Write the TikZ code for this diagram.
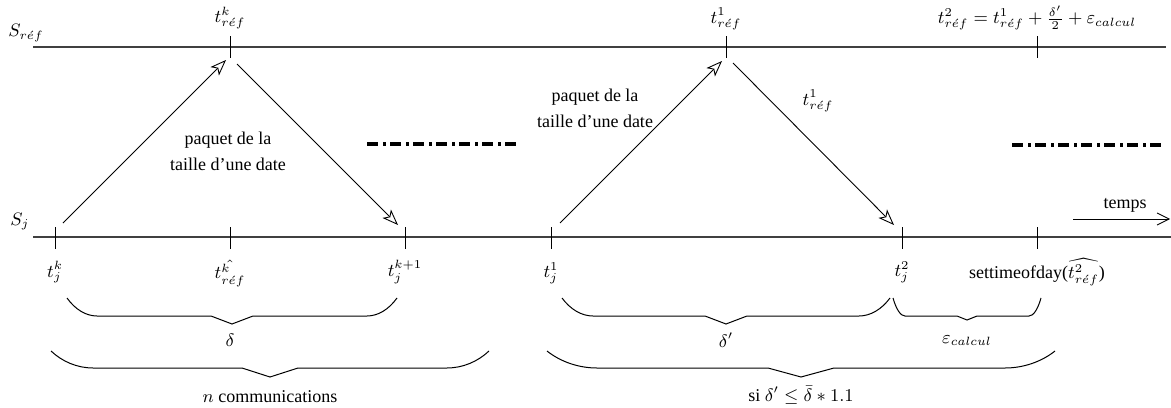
\documentclass[tikz,border=0pt]{standalone}
\usepackage{fontspec}
\setmainfont{Liberation Serif}
\usetikzlibrary{arrows.meta}
\newcommand\MyBrace[7]{%
  \pgfmathsetmacro\mbM{(#1+#2)/2}%
  \pgfmathsetmacro\mbA{#1+0.27*#5}%
  \pgfmathsetmacro\mbB{#3+0.63*#4}%
  \pgfmathsetmacro\mbC{#1+0.63*#5}%
  \pgfmathsetmacro\mbD{#3+#4}%
  \pgfmathsetmacro\mbE{#1+#5}%
  \pgfmathsetmacro\mbF{\mbM-#6}%
  \pgfmathsetmacro\mbG{\mbM+#6}%
  \pgfmathsetmacro\mbH{#3+#4+#7}%
  \pgfmathsetmacro\mbI{#2-#5}%
  \pgfmathsetmacro\mbJ{#2-0.63*#5}%
  \pgfmathsetmacro\mbK{#2-0.27*#5}%
  \draw[bracestyle] (#1,#3) .. controls (\mbA,\mbB) and (\mbC,\mbD) .. (\mbE,\mbD)
    -- (\mbF,\mbD) -- (\mbM,\mbH) -- (\mbG,\mbD) -- (\mbI,\mbD)
    .. controls (\mbJ,\mbD) and (\mbK,\mbB) .. (#2,#3);%
}
\begin{document}
\begin{tikzpicture}[x=0.5pt,y=-0.5pt,
  every node/.style={font=\fontsize{9}{11}\selectfont, inner sep=0pt},
  axis/.style={draw=black!75, line width=0.65pt},
  tick/.style={draw=black, line width=0.5pt},
  msg/.style={draw=black, line width=0.45pt, -{Stealth[open,length=8pt,width=6pt,inset=2pt]}},
  bracestyle/.style={draw=black, line width=0.5pt},
  dashdot/.style={line width=2pt, dash pattern=on 5.5pt off 2.7pt on 1.2pt off 2.1pt},
  lbl/.style={align=center}
]
\useasboundingbox (0,0) rectangle (1171,407);

% axes
\coordinate (refL) at (33,47);
\coordinate (refR) at (1166,47);
\coordinate (jL) at (33,237);
\coordinate (jR) at (1171,237);
\draw[axis] (refL) -- (refR);
\draw[axis] (jL) -- (jR);
\node (Sref) at (26,33) {$S_{r\acute{e}f}$};
\node (Sj) at (20,222) {$S_j$};

% top ticks
\foreach \x/\n in {230/tA,726/tB,1037/tC} {
  \coordinate (\n1) at (\x,36);
  \coordinate (\n2) at (\x,58);
  \draw[tick] (\n1) -- (\n2);
}
% bottom ticks
\foreach \x/\n in {55/bA,230/bB,405/bC,551/bD,902/bE,1037/bF} {
  \coordinate (\n1) at (\x,227);
  \coordinate (\n2) at (\x,249);
  \draw[tick] (\n1) -- (\n2);
}

% top labels
\node (lA) at (230,18) {$t^k_{r\acute{e}f}$};
\node (lB) at (726,19) {$t^1_{r\acute{e}f}$};
\node (lC) at (1037,18) {$t^2_{r\acute{e}f}=t^1_{r\acute{e}f}+\frac{\delta'}{2}+\varepsilon_{calcul}$};

% bottom labels
\node (mA) at (55,272) {$t^k_j$};
\node (mB) at (230,273) {$\hat{t^k_{r\acute{e}f}}$};
\node (mC) at (405,272) {$t^{k+1}_j$};
\node (mD) at (551,273) {$t^1_j$};
\node (mE) at (902,272) {$t^2_j$};
\node (mF) at (1037,272) {settimeofday($\widehat{t^2_{r\acute{e}f}}$)};

% messages
\coordinate (a1s) at (63,223);
\coordinate (a1e) at (226,60);
\coordinate (a2s) at (237,64);
\coordinate (a2e) at (398,225);
\coordinate (a3s) at (560,223);
\coordinate (a3e) at (722,61);
\coordinate (a4s) at (733,63);
\coordinate (a4e) at (894,225);
\draw[msg] (a1s) -- (a1e);
\draw[msg] (a2s) -- (a2e);
\draw[msg] (a3s) -- (a3e);
\draw[msg] (a4s) -- (a4e);

\node[lbl] (p1) at (228,151) {paquet de la\\[2pt]taille d'une date};
\node[lbl] (p2) at (595,108) {paquet de la\\[2pt]taille d'une date};
\node (r1) at (818,101) {$t^1_{r\acute{e}f}$};

% dash-dot continuation
\coordinate (d1s) at (367,144);
\coordinate (d1e) at (517,144);
\coordinate (d2s) at (1012,145);
\coordinate (d2e) at (1162,145);
\draw[dashdot] (d1s) -- (d1e);
\draw[dashdot] (d2s) -- (d2e);

% temps
\coordinate (ts) at (1073,219);
\coordinate (te) at (1170,219);
\draw[line width=0.45pt, -{Straight Barb[length=6pt,width=6pt]}] (ts) -- (te);
\node (temps) at (1125,205) {temps};

% braces
\MyBrace{67}{397}{298}{18}{30}{21}{8}
\MyBrace{51}{489}{351}{17}{42}{28}{9}
\MyBrace{562}{890}{298}{18}{31}{21}{8}
\MyBrace{893}{1041}{298}{18}{12}{10}{4}
\MyBrace{547}{1055}{351}{17}{50}{33}{9}

\node (delta) at (230,340) {$\delta$};
\node (ncom) at (270,397) {$n$ communications};
\node (deltap) at (726,340) {$\delta'$};
\node (eps) at (967,341) {$\varepsilon_{calcul}$};
\node (si) at (801,395) {si $\delta'\leq\bar{\delta}*1.1$};
\end{tikzpicture}
\end{document}
